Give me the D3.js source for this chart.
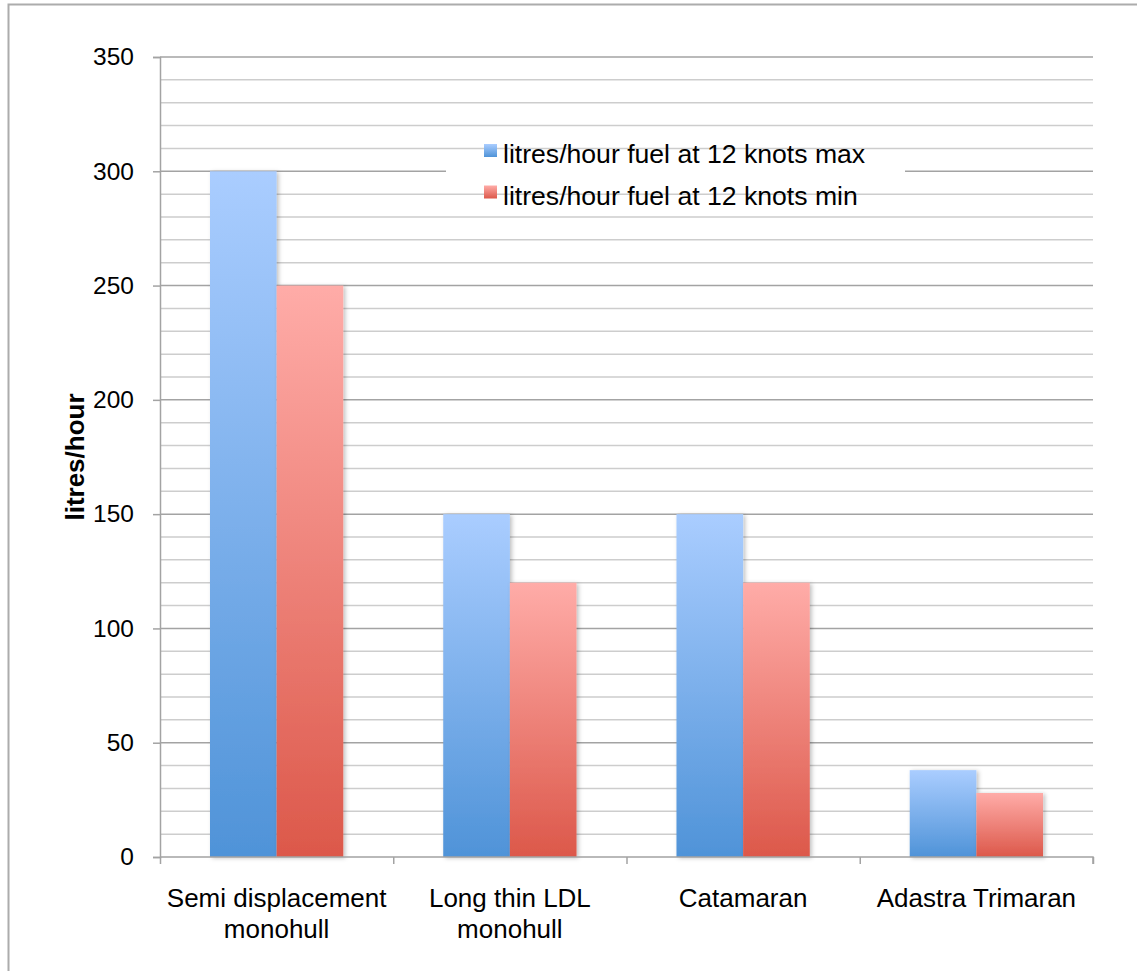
<!DOCTYPE html>
<html>
<head>
<meta charset="utf-8">
<script src="https://cdn.jsdelivr.net/npm/d3@7"></script>
<style>
  html, body { margin: 0; padding: 0; background: #fff; }
  svg { display: block; font-family: "Liberation Sans", Arial, sans-serif; }
</style>
</head>
<body>
<svg id="chart" width="1137" height="971"></svg>
<script>
// Fuel consumption at 12 knots, by hull type
const categories = [
  ["Semi displacement", "monohull"],
  ["Long thin LDL", "monohull"],
  ["Catamaran"],
  ["Adastra Trimaran"]
];
const seriesNames = [
  "litres/hour fuel at 12 knots max",
  "litres/hour fuel at 12 knots min"
];
const maxValues = [300, 150, 150, 38];
const minValues = [250, 120, 120, 28];
const yTicks = [0, 50, 100, 150, 200, 250, 300, 350];
const yMinorTicks = d3.range(0, 351, 10);

const svg = d3.select("#chart");
const margin = { left: 160, right: 1093, top: 57, bottom: 857 };
const FONT = "'Liberation Sans', Arial, sans-serif";

// Outer frame
svg.append("rect")
  .attr("x", 8.5).attr("y", 4.5)
  .attr("width", 1140).attr("height", 980)
  .attr("fill", "#fff").attr("stroke", "#acacac").attr("stroke-width", 2);

const defs = svg.append("defs");
const gradStops = [
  ["gradMax", "#aacdff", "#4f93d8"],
  ["gradMin", "#ffaca8", "#dc584a"]
];
gradStops.forEach(([id, top, bottom]) => {
  const g = defs.append("linearGradient").attr("id", id)
    .attr("x1", 0).attr("y1", 0).attr("x2", 0).attr("y2", 1);
  g.append("stop").attr("offset", "0%").attr("stop-color", top);
  g.append("stop").attr("offset", "100%").attr("stop-color", bottom);
});
const shadow = defs.append("filter").attr("id", "barShadow")
  .attr("x", "-10%").attr("y", "-10%").attr("width", "130%").attr("height", "130%");
shadow.append("feDropShadow")
  .attr("dx", 2).attr("dy", 1).attr("stdDeviation", 2)
  .attr("flood-color", "#000").attr("flood-opacity", 0.25);

const x0 = d3.scaleBand()
  .domain(d3.range(categories.length))
  .range([margin.left, margin.right])
  .paddingInner(0).paddingOuter(0);
const x1 = d3.scaleBand()
  .domain([0, 1])
  .range([0, x0.bandwidth()])
  .paddingInner(0)
  .paddingOuter(0.75);
const y = d3.scaleLinear().domain([0, 350]).range([margin.bottom, margin.top]);

// Minor gridlines
svg.append("g").selectAll("line")
  .data(yMinorTicks.filter(v => v % 50 !== 0))
  .join("line")
  .attr("x1", margin.left).attr("x2", margin.right)
  .attr("y1", d => y(d)).attr("y2", d => y(d))
  .attr("stroke", "#cdcdcd").attr("stroke-width", 1.5);

// Major gridlines
svg.append("g").selectAll("line")
  .data(yTicks.filter(v => v > 0))
  .join("line")
  .attr("x1", margin.left).attr("x2", margin.right)
  .attr("y1", d => y(d)).attr("y2", d => y(d))
  .attr("stroke", "#a3a3a3").attr("stroke-width", 1.5);

// Y axis
const yAxis = svg.append("g")
  .attr("transform", `translate(${margin.left},0)`)
  .call(d3.axisLeft(y).tickValues(yTicks).tickSize(7).tickPadding(19));
yAxis.select(".domain").attr("stroke", "#a3a3a3").attr("stroke-width", 1.5);
yAxis.selectAll(".tick line").attr("stroke", "#a3a3a3").attr("stroke-width", 1.5);
yAxis.selectAll(".tick text")
  .attr("font-size", 24.5).attr("fill", "#000")
  .attr("font-family", FONT);

// Bars
const groups = svg.append("g").selectAll("g")
  .data(categories.map((c, i) => [maxValues[i], minValues[i]]))
  .join("g")
  .attr("transform", (d, i) => `translate(${x0(i)},0)`);
groups.selectAll("rect")
  .data(d => d)
  .join("rect")
  .attr("x", (d, j) => x1(j))
  .attr("width", x1.bandwidth())
  .attr("y", d => y(d))
  .attr("height", d => y(0) - y(d))
  .attr("fill", (d, j) => j === 0 ? "url(#gradMax)" : "url(#gradMin)")
  .attr("filter", "url(#barShadow)");

// X axis
const xAxisScale = d3.scaleLinear().domain([0, categories.length]).range([margin.left, margin.right]);
const xAxis = svg.append("g")
  .attr("transform", `translate(0,${margin.bottom})`)
  .call(d3.axisBottom(xAxisScale).tickValues(d3.range(categories.length + 1)).tickSize(7).tickFormat(""));
xAxis.select(".domain").attr("stroke", "#a3a3a3").attr("stroke-width", 1.5).attr("d", `M${margin.left},0H${margin.right}V7`);
xAxis.selectAll(".tick line").attr("stroke", "#a3a3a3").attr("stroke-width", 1.5);

// Category labels
const catLabels = svg.append("g").selectAll("text")
  .data(categories)
  .join("text")
  .attr("x", (d, i) => x0(i) + x0.bandwidth() / 2)
  .attr("y", 907)
  .attr("text-anchor", "middle")
  .attr("font-size", 26)
  .attr("fill", "#000");
catLabels.selectAll("tspan")
  .data(d => d)
  .join("tspan")
  .attr("x", function () { return d3.select(this.parentNode).attr("x"); })
  .attr("dy", (d, k) => k === 0 ? 0 : 31)
  .text(d => d);

// Y axis title
svg.append("text")
  .attr("transform", `translate(84,${(margin.top + margin.bottom) / 2}) rotate(-90)`)
  .attr("text-anchor", "middle")
  .attr("font-size", 26)
  .attr("font-weight", "bold")
  .attr("fill", "#000")
  .text("litres/hour");

// Legend
const legend = svg.append("g");
legend.append("rect")
  .attr("x", 446).attr("y", y(310) + 2)
  .attr("width", 459).attr("height", y(290) - y(310) - 4)
  .attr("fill", "#fff");
const legendRows = legend.selectAll("g")
  .data(seriesNames)
  .join("g")
  .attr("transform", (d, i) => `translate(484,${144 + i * 41.5})`);
legendRows.append("rect")
  .attr("width", 13).attr("height", 13)
  .attr("fill", (d, i) => i === 0 ? "url(#gradMax)" : "url(#gradMin)");
legendRows.append("text")
  .attr("x", 19).attr("y", 19)
  .attr("font-size", 26.6)
  .attr("fill", "#000")
  .text(d => d);
</script>
</body>
</html>
